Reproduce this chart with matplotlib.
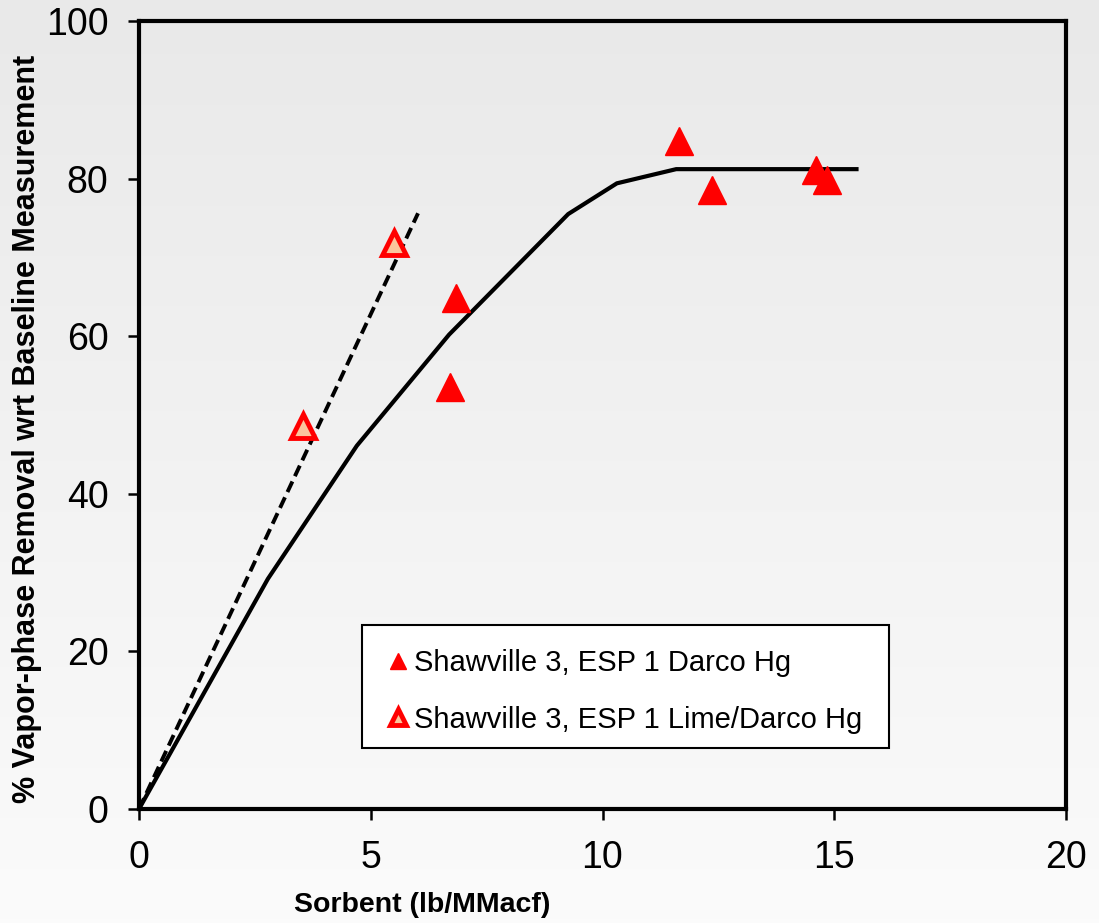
import numpy as np
import matplotlib
matplotlib.use("Agg")
import matplotlib.pyplot as plt
from matplotlib.patches import Rectangle

plt.rcParams['font.family'] = ['Liberation Sans', 'DejaVu Sans']

# Data
darco_x = [11.66, 12.36, 14.61, 14.84, 6.84, 6.72]
darco_y = [84.8, 78.55, 81.1, 79.8, 64.8, 53.55]
lime_x = [5.51, 3.53]
lime_y = [71.8, 48.6]
fit_x = [0.0, 2.78, 4.70, 6.69, 9.26, 10.31, 11.59, 15.48]
fit_y = [0.0, 29.2, 46.1, 60.2, 75.5, 79.4, 81.2, 81.2]
dash_x = [0.0, 6.02]
dash_y = [0.0, 75.6]
x_ticks = [0, 5, 10, 15, 20]
y_ticks = [0, 20, 40, 60, 80, 100]
label_darco = "Shawville 3, ESP 1 Darco Hg"
label_lime = "Shawville 3, ESP 1 Lime/Darco Hg"

W, H = 1099, 923
fig = plt.figure(figsize=(W / 100, H / 100), dpi=100)

# background gradient
bg = fig.add_axes([0, 0, 1, 1], zorder=-10)
grad = np.linspace(0, 1, 256).reshape(-1, 1)
top = np.array([233, 233, 233]) / 255.0
bot = np.array([251, 251, 251]) / 255.0
img = top[None, None, :] * (1 - grad[:, :, None]) + bot[None, None, :] * grad[:, :, None]
bg.imshow(img, aspect='auto', extent=[0, 1, 0, 1])
bg.set_axis_off()

ax = fig.add_axes([139 / W, 1 - 809 / H, (1066 - 139) / W, (809 - 21) / H])
ax.patch.set_alpha(0)

ax.plot(fit_x, fit_y, color='black', lw=3.0, solid_joinstyle='miter', zorder=2)
ax.plot(dash_x, dash_y, color='black', lw=2.8, dashes=(3.0, 1.5), zorder=2)

ax.plot(darco_x, darco_y, linestyle='none', marker='^', ms=19.5, mfc='#ff0000',
        mec='#ff0000', mew=1, zorder=3, label=label_darco)
ax.plot(lime_x, lime_y, linestyle='none', marker='^', ms=17.5, mfc='#fbc59c',
        mec='#ff0000', mew=3.5, zorder=3, label=label_lime)

ax.set_xlim(0, 20)
ax.set_ylim(0, 100)
ax.set_xticks(x_ticks)
ax.set_yticks(y_ticks)
ax.tick_params(axis='both', direction='out', length=8, width=1.8, labelsize=27,
               color='black')
ax.tick_params(axis='y', pad=14)
ax.tick_params(axis='x', pad=14)
for s in ax.spines.values():
    s.set_linewidth(3.0)
    s.set_color('black')

# legend frame
frame = Rectangle((362 / W, 1 - 748 / H), (889 - 362) / W, (748 - 625) / H,
                  transform=fig.transFigure, facecolor='white', edgecolor='black',
                  linewidth=1.5, zorder=4, clip_on=False)
ax.add_patch(frame)

leg = ax.legend(loc='upper left', bbox_to_anchor=(386 / W, 1 - 649 / H),
                bbox_transform=fig.transFigure, frameon=False,
                fontsize=21, handlelength=0.8, handletextpad=0.15, borderpad=0,
                labelspacing=0.98, borderaxespad=0, markerscale=0.62)
leg.set_zorder(5)

fig.text(422 / W, 1 - 905 / H, "Sorbent (lb/MMacf)", fontsize=20.5, fontweight='bold',
         ha='center', va='center')
fig.text(27 / W, 1 - 429 / H, "% Vapor-phase Removal wrt Baseline Measurement",
         fontsize=22, fontweight='bold', rotation=90, ha='center', va='center')

fig.savefig("out.png", dpi=100)
